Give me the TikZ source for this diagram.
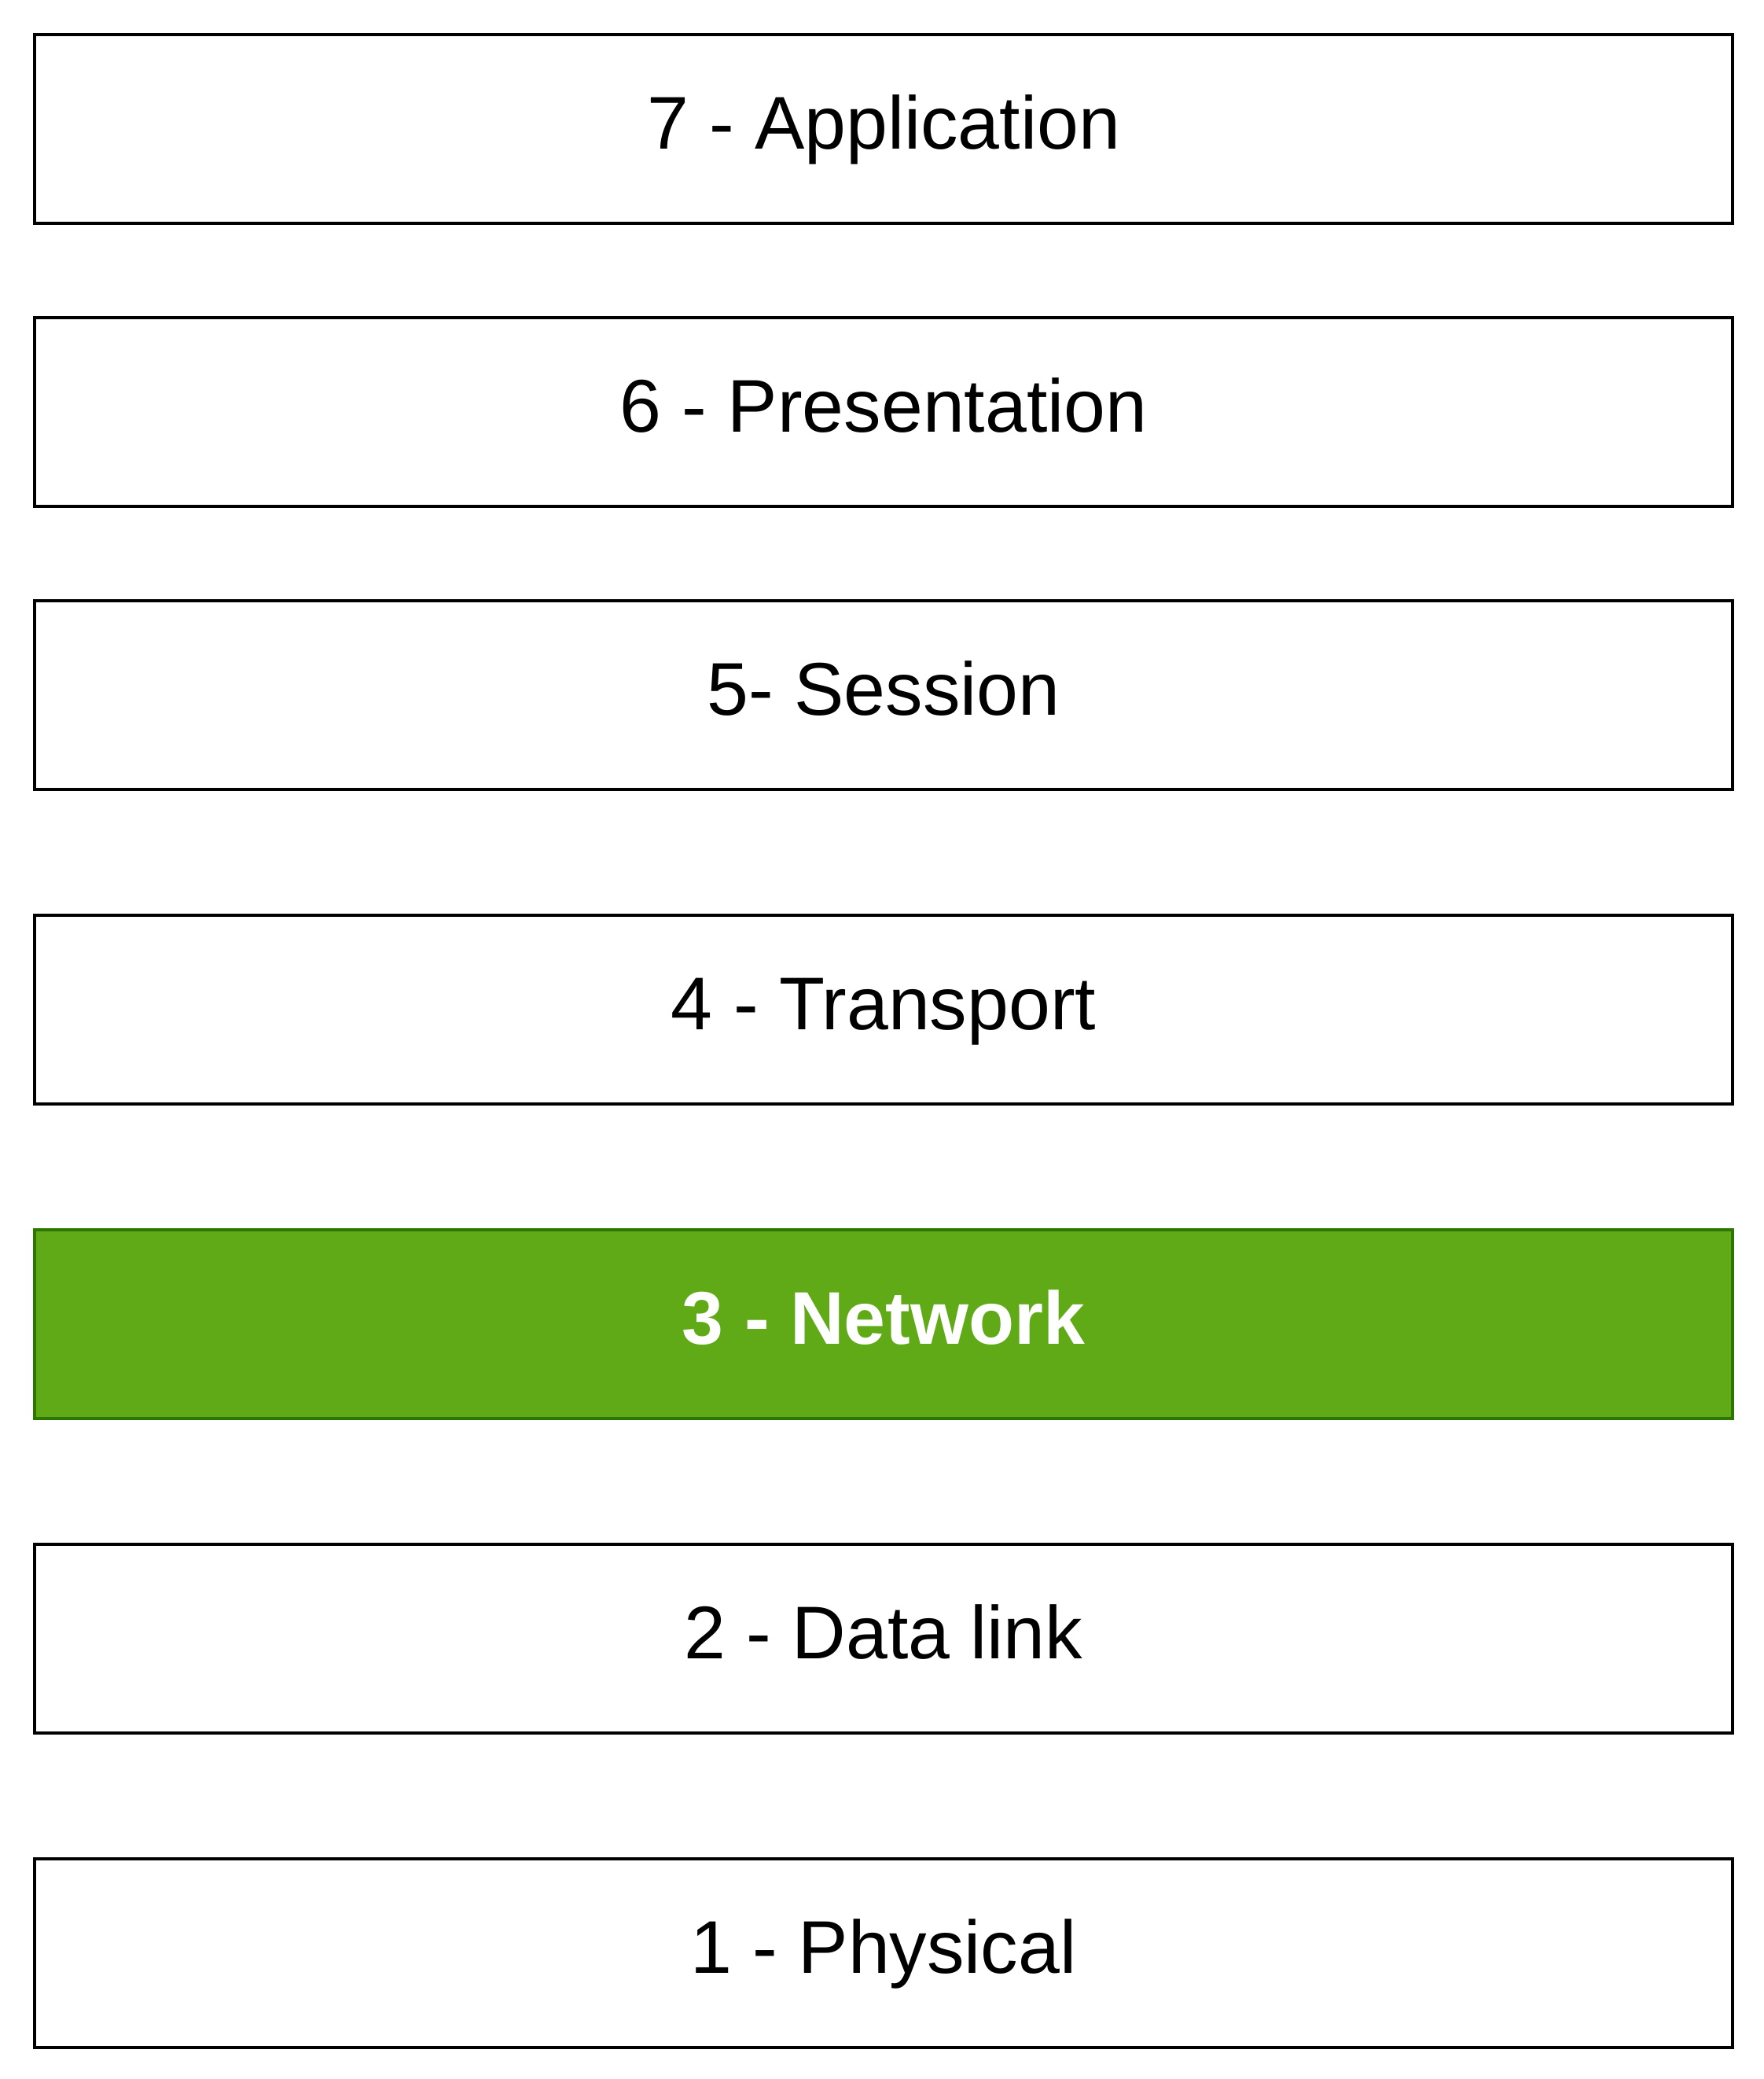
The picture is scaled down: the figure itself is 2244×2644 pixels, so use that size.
\documentclass[tikz,border=0pt]{standalone}
\usepackage{fontspec}
\setmainfont{Liberation Sans}
\definecolor{netgreen}{HTML}{60A917}
\definecolor{netgreendark}{HTML}{2D7600}
\tikzset{
  layerbox/.style={draw=black, fill=white, line width=1pt, rectangle, inner sep=0pt,
    minimum width=540pt, minimum height=60pt, anchor=north west,
    font=\fontsize{23.75pt}{28pt}\selectfont, text height=17.8pt, text depth=5pt},
  greenbox/.style={layerbox, draw=netgreendark, fill=netgreen, text=white,
    font=\fontsize{23.75pt}{28pt}\selectfont\bfseries}
}
\begin{document}
\begin{tikzpicture}[x=0.25pt,y=-0.25pt]
\useasboundingbox (0,0) rectangle (2244,2644);
\node[layerbox] (l7) at (42,42) {7 - Application};
\node[layerbox] (l6) at (42,402) {6 - Presentation};
\node[layerbox] (l5) at (42,762) {5- Session};
\node[layerbox] (l4) at (42,1162) {4 - Transport};
\node[greenbox] (l3) at (42,1562) {3 - Network};
\node[layerbox] (l2) at (42,1962) {2 - Data link};
\node[layerbox] (l1) at (42,2362) {1 - Physical};
\end{tikzpicture}
\end{document}
